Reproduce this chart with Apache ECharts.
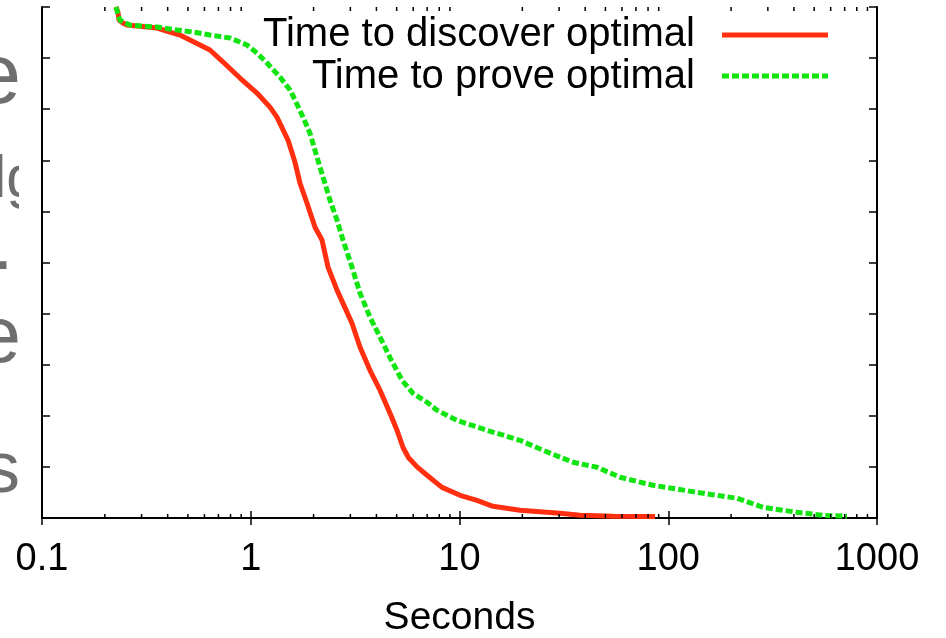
<!DOCTYPE html>
<html>
<head>
<meta charset="utf-8">
<script src="https://cdn.jsdelivr.net/npm/echarts@6/dist/echarts.min.js"></script>
<style>
  html, body { margin: 0; padding: 0; background: #fff; }
  #chart { width: 946px; height: 638px; }
</style>
</head>
<body>
<div id="chart"></div>
<script>
// survival-style curves: % of instances still open vs. seconds (log x)
const seriesNames = ['Time to discover optimal', 'Time to prove optimal'];

const discoverData = [
  [0.226, 100], [0.231, 99.0], [0.234, 97.45], [0.244, 96.87], [0.255, 96.47],
  [0.356, 95.89], [0.41, 95.1], [0.458, 94.52], [0.571, 92.56], [0.638, 91.58],
  [0.737, 89.23], [0.888, 86.1], [1.071, 83.16], [1.236, 80.4], [1.335, 78.44],
  [1.508, 73.95], [1.629, 69.6], [1.722, 65.5], [1.86, 61.6], [2.032, 56.9],
  [2.194, 54.4], [2.345, 49.1], [2.589, 44.6], [2.767, 42.0], [3.055, 38.1],
  [3.338, 33.4], [3.726, 28.9], [4.16, 25.0], [4.646, 20.5], [5.019, 17.17],
  [5.364, 13.8], [5.7, 11.8], [6.3, 9.9], [6.988, 8.36], [8.246, 6.0], [10.06, 4.44],
  [12.13, 3.46], [14.47, 2.29], [19.49, 1.51], [30.29, 0.92], [37.78, 0.53],
  [54.36, 0.33], [86.43, 0.3]
];

const proveData = [
  [0.226, 100], [0.236, 97.45], [0.25, 96.87], [0.264, 96.47], [0.356, 96.08],
  [0.444, 95.5], [0.529, 95.1], [0.638, 94.52], [0.796, 93.93], [0.959, 92.56],
  [1.071, 91.0], [1.196, 89.04], [1.38, 86.3], [1.542, 83.75], [1.629, 81.8],
  [1.78, 78.44], [1.922, 75.3], [2.077, 70.6], [2.219, 66.7], [2.397, 62.2],
  [2.589, 58.3], [2.767, 54.4], [3.055, 49.1], [3.338, 44.0], [3.726, 39.3],
  [4.16, 35.4], [4.646, 31.4], [5.303, 26.96], [5.989, 24.4], [6.988, 22.65],
  [7.803, 21.09], [8.712, 20.1], [9.727, 19.1], [13.54, 17.17], [19.49, 15.2],
  [25.12, 13.26], [34.98, 10.9], [45.57, 9.93], [58.73, 7.97], [84.53, 6.4],
  [137.3, 5.03], [213.5, 3.86], [284.4, 2.09], [413.9, 1.12], [551.2, 0.53],
  [718.3, 0.33]
];

const xTickLabels = ['0.1', '1', '10', '100', '1000'];
const minorMultipliers = [2, 3, 4, 5, 6, 7, 8, 9];
const decades = [0.1, 1, 10, 100];

const FONT = 'Liberation Sans';
const RED = '#ff2f0f';
const GREEN = '#11e411';
const GREY = '#6f6f6f';

const minorTicks = [];
decades.forEach((d) => {
  minorMultipliers.forEach((m) => minorTicks.push([+(d * m).toPrecision(3), 0]));
});

const chart = echarts.init(document.getElementById('chart'));

const baseX = {
  type: 'log',
  logBase: 10,
  min: 0.1,
  max: 1000,
  axisLine: { show: true, lineStyle: { color: '#000', width: 2 } },
  axisTick: { show: true, inside: true, length: 7, lineStyle: { color: '#000', width: 1.5 } },
  splitLine: { show: false }
};
const baseY = {
  type: 'value',
  min: 0,
  max: 100,
  interval: 10,
  axisLine: { show: true, lineStyle: { color: '#000', width: 2 } },
  axisTick: { show: true, inside: true, length: 8, lineStyle: { color: '#000', width: 1.5 } },
  axisLabel: { show: false },
  splitLine: { show: false }
};

const option = {
  animation: false,
  backgroundColor: '#fff',
  grid: { left: 42, right: 69, top: 7, bottom: 120, containLabel: false, outerBoundsMode: 'none' },
  xAxis: [
    Object.assign({}, baseX, {
      position: 'bottom',
      name: 'Seconds',
      nameLocation: 'middle',
      nameGap: 81,
      nameTextStyle: { fontFamily: FONT, fontSize: 39, color: '#000' },
      axisLabel: {
        show: true, margin: 23, fontFamily: FONT, fontSize: 38, color: '#000',
        showMinLabel: true, showMaxLabel: true,
        formatter: (v) => {
          const i = Math.round(Math.log10(v)) + 1;
          return xTickLabels[i] || '';
        }
      }
    }),
    Object.assign({}, baseX, { position: 'top', axisLabel: { show: false } })
  ],
  yAxis: [
    Object.assign({}, baseY, { position: 'left' }),
    Object.assign({}, baseY, { position: 'right' })
  ],
  series: [
    {
      name: seriesNames[0],
      type: 'line',
      data: discoverData,
      symbol: 'none',
      lineStyle: { color: RED, width: 5 },
      z: 3
    },
    {
      name: seriesNames[1],
      type: 'line',
      data: proveData,
      symbol: 'none',
      lineStyle: { color: GREEN, width: 5, type: [7, 3], cap: 'butt' },
      z: 4
    },
    {
      // minor ticks of the log axis, bottom and top
      type: 'custom',
      silent: true,
      data: minorTicks,
      encode: { x: 0, y: 1 },
      clip: false,
      renderItem: (params, api) => {
        const lo = api.coord([api.value(0), 0]);
        const hi = api.coord([api.value(0), 100]);
        const st = { stroke: '#000', lineWidth: 1.5 };
        return {
          type: 'group',
          children: [
            { type: 'line', shape: { x1: lo[0], y1: lo[1], x2: lo[0], y2: lo[1] - 4 }, style: st },
            { type: 'line', shape: { x1: hi[0], y1: hi[1], x2: hi[0], y2: hi[1] + 4 }, style: st }
          ]
        };
      },
      z: 5
    }
  ],
  graphic: [
    // legend (text, then sample line)
    { type: 'text', x: 695, y: 35,
      style: { text: seriesNames[0], font: '40px "Liberation Sans"', fill: '#000', align: 'right', verticalAlign: 'middle' } },
    { type: 'text', x: 695, y: 76.5,
      style: { text: seriesNames[1], font: '40px "Liberation Sans"', fill: '#000', align: 'right', verticalAlign: 'middle' } },
    { type: 'line', shape: { x1: 722, y1: 35, x2: 828, y2: 35 },
      style: { stroke: RED, lineWidth: 5 } },
    { type: 'line', shape: { x1: 722, y1: 76, x2: 828, y2: 76 },
      style: { stroke: GREEN, lineWidth: 5, lineDash: [7, 3], lineCap: 'butt' } },
    // clipped grey lettering on the far left edge
    { type: 'text', x: 21, y: 79, style: { text: 'e', font: '86px "Liberation Sans"', fill: GREY, align: 'right', verticalAlign: 'middle' } },
    { type: 'text', x: -7, y: 180, style: { text: 'lg', font: '60px "Liberation Sans"', fill: GREY, align: 'left', verticalAlign: 'middle' } },
    { type: 'rect', shape: { x: 19, y: 150, width: 21, height: 70 }, style: { fill: '#fff' }, z: 10 },
    { type: 'text', x: 13, y: 249, style: { text: '.', font: '72px "Liberation Sans"', fill: GREY, align: 'right', verticalAlign: 'middle' } },
    { type: 'text', x: 21, y: 340, style: { text: 'e', font: '80px "Liberation Sans"', fill: GREY, align: 'right', verticalAlign: 'middle' } },
    { type: 'text', x: 20, y: 472, style: { text: 's', font: '72px "Liberation Sans"', fill: GREY, align: 'right', verticalAlign: 'middle' } }
  ]
};

chart.setOption(option);
</script>
</body>
</html>
